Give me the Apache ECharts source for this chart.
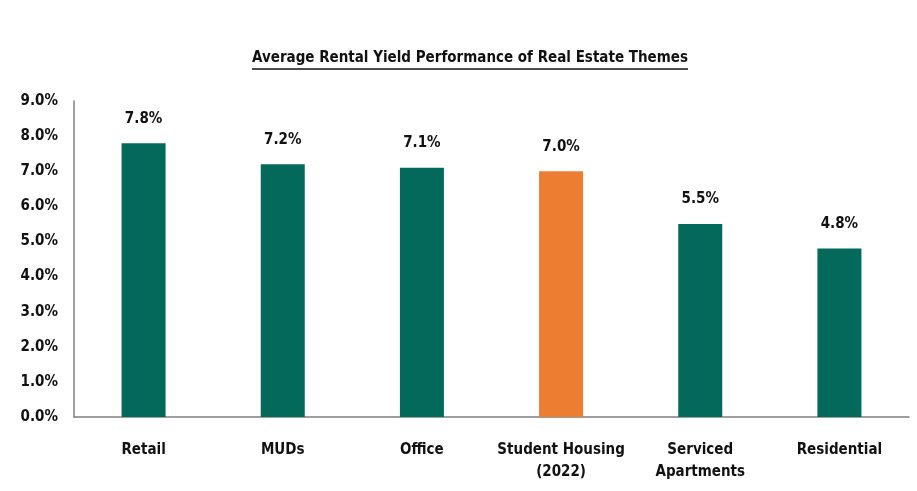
<!DOCTYPE html>
<html>
<head>
<meta charset="utf-8">
<script src="https://cdn.jsdelivr.net/npm/echarts@6/dist/echarts.min.js"></script>
<style>
html,body{margin:0;padding:0;background:#fff;}
#main{width:917px;height:491px;}
</style>
</head>
<body>
<div id="main"></div>
<script>
var categories=["Retail","MUDs","Office","Student Housing\n(2022)","Serviced\nApartments","Residential"];
var yields=[7.8,7.2,7.1,7.0,5.5,4.8];
var highlightIndex=3;
var titleText="Average Rental Yield Performance of Real Estate Themes";

var font="'DejaVu Sans Condensed','Liberation Sans Narrow',sans-serif";
var green="#03695a";
var orange="#ed7d31";
var titleSize=15;

var myChart=echarts.init(document.getElementById('main'));

// measure title so the underline fits it
var cv=document.createElement('canvas').getContext('2d');
cv.font='bold '+titleSize+'px '+font;
var tw=cv.measureText(titleText).width;
var cx=470;

var barData=[];
for(var i=0;i<yields.length;i++){
  barData.push({
    value:yields[i],
    itemStyle:{color:i==highlightIndex?orange:green}
  });
}

var options={
  animation:false,
  graphic:[{
    type:'text',
    x:cx,y:51,
    style:{
      text:titleText,
      textAlign:'center',
      textVerticalAlign:'top',
      fontFamily:font,fontWeight:'bold',fontSize:titleSize,fill:'#111'
    }
  },{
    type:'line',
    shape:{x1:cx-tw/2,y1:69,x2:cx+tw/2,y2:69},
    style:{stroke:'#111',lineWidth:1.3}
  }],
  grid:{left:74,right:8,top:101,bottom:74},
  xAxis:{
    type:'category',
    data:categories,
    axisLine:{lineStyle:{color:'#7f7f7f',width:1.5}},
    axisTick:{show:false},
    axisLabel:{
      interval:0,
      margin:22,
      lineHeight:22,
      fontFamily:font,fontWeight:'bold',fontSize:15,color:'#111'
    }
  },
  yAxis:{
    type:'value',
    min:0,max:9,interval:1,
    axisLine:{show:true,lineStyle:{color:'#7f7f7f',width:1.5}},
    axisTick:{show:false},
    splitLine:{show:false},
    axisLabel:{
      margin:16,
      formatter:function(v){return v.toFixed(1)+'%';},
      fontFamily:font,fontWeight:'bold',fontSize:15,color:'#111'
    }
  },
  series:[{
    type:'bar',
    barWidth:44,
    data:barData,
    label:{
      show:true,
      position:'top',
      distance:17,
      formatter:function(p){return p.value.toFixed(1)+'%';},
      fontFamily:font,fontWeight:'bold',fontSize:15,color:'#111'
    }
  }]
};
myChart.setOption(options);
</script>
</body>
</html>
